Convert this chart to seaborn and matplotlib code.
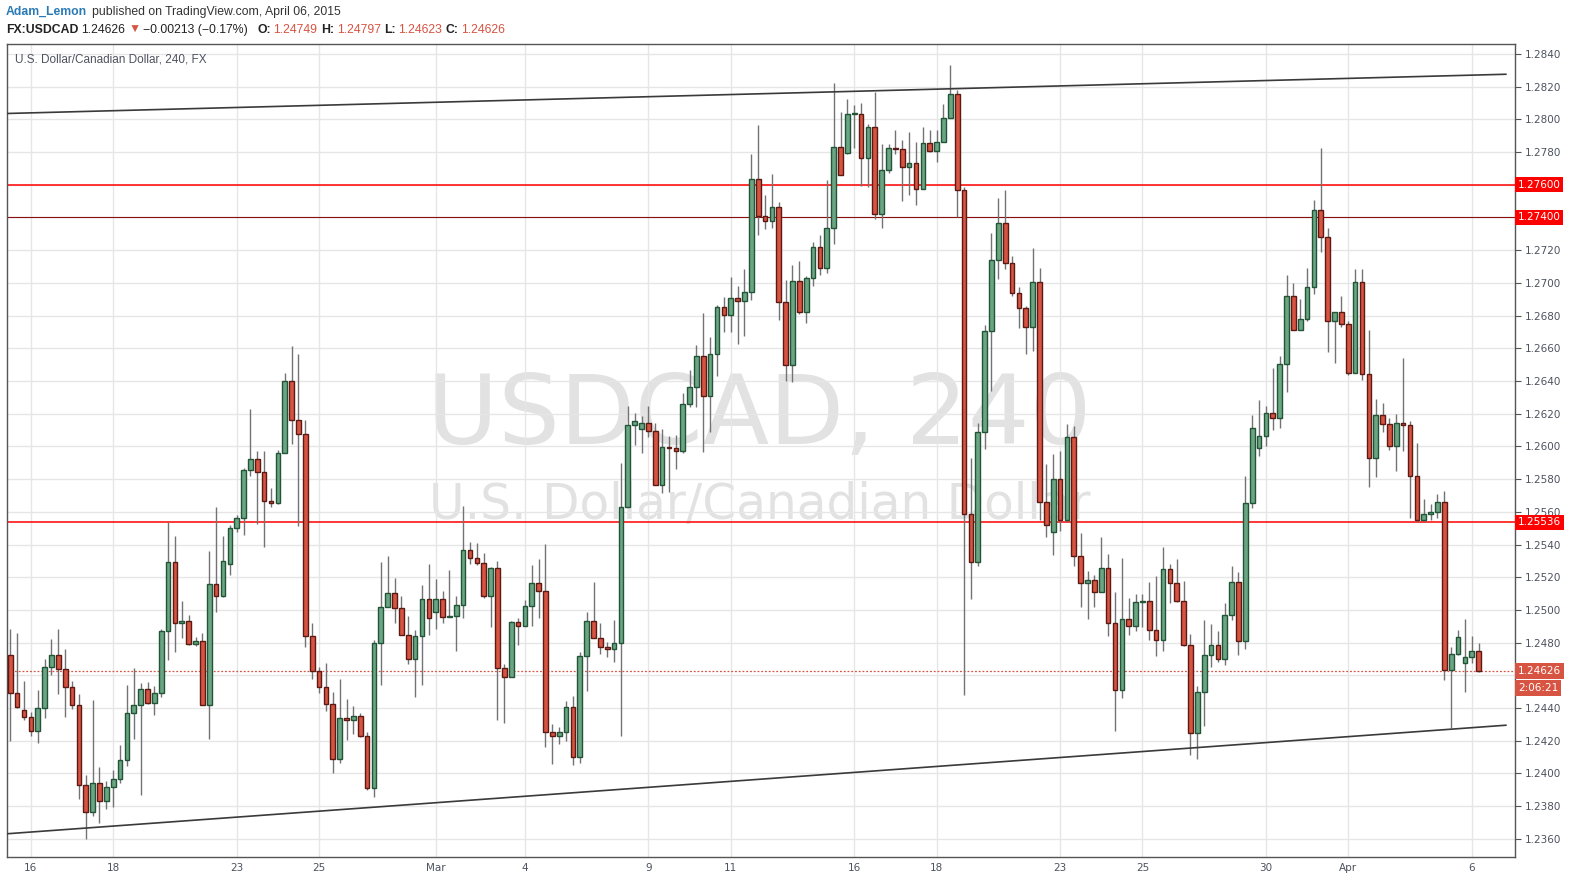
import numpy as np
import pandas as pd
import matplotlib
matplotlib.use('Agg')
import matplotlib.pyplot as plt
import seaborn as sns

# USDCAD 4h candles (Feb 13 - Apr 6 2015)
opens = [1.24722, 1.24490, 1.24386, 1.24343, 1.24261, 1.24398, 1.24649, 1.24722, 1.24637, 1.24527,
         1.24416, 1.23927, 1.23767, 1.23939, 1.23829, 1.23920, 1.23969, 1.24080, 1.24370, 1.24420,
         1.24515, 1.24430, 1.24491, 1.24874, 1.25294, 1.24923, 1.24930, 1.24789, 1.24807, 1.24418,
         1.25160, 1.25087, 1.25282, 1.25501, 1.25562, 1.25854, 1.25921, 1.25842, 1.25665, 1.25653,
         1.25957, 1.26402, 1.26164, 1.26073, 1.24838, 1.24625, 1.24527, 1.24424, 1.24090, 1.24340,
         1.24327, 1.24351, 1.24230, 1.23909, 1.24797, 1.25016, 1.25101, 1.25010, 1.24846, 1.24700,
         1.24840, 1.25065, 1.24986, 1.25065, 1.24955, 1.24963, 1.25028, 1.25369, 1.25320, 1.25284,
         1.25083, 1.25256, 1.24647, 1.24592, 1.24927, 1.24901, 1.25024, 1.25164, 1.25116, 1.24252,
         1.24227, 1.24252, 1.24404, 1.24100, 1.24720, 1.24933, 1.24830, 1.24775, 1.24763, 1.24800,
         1.25627, 1.26132, 1.26108, 1.26144, 1.26095, 1.25767, 1.25998, 1.25992, 1.25972, 1.26260,
         1.26363, 1.26552, 1.26308, 1.26564, 1.26850, 1.26801, 1.26905, 1.26892, 1.26947, 1.27635,
         1.27410, 1.27379, 1.27465, 1.26886, 1.26497, 1.27014, 1.26824, 1.27032, 1.27221, 1.27093,
         1.27337, 1.27833, 1.27796, 1.28035, 1.28035, 1.27765, 1.27955, 1.27422, 1.27692, 1.27827,
         1.27818, 1.27710, 1.27735, 1.27576, 1.27857, 1.27808, 1.27863, 1.28010, 1.28157, 1.27569,
         1.25586, 1.25296, 1.26089, 1.26706, 1.27137, 1.27364, 1.27120, 1.26937, 1.26846, 1.26730,
         1.27005, 1.25663, 1.25477, 1.25802, 1.25547, 1.26058, 1.25328, 1.25164, 1.25182, 1.25109,
         1.25255, 1.24921, 1.24508, 1.24945, 1.24901, 1.25049, 1.25055, 1.24878, 1.24816, 1.25249,
         1.25164, 1.25055, 1.24785, 1.24246, 1.24500, 1.24727, 1.24786, 1.24700, 1.24969, 1.25170,
         1.24810, 1.25651, 1.25991, 1.26065, 1.26204, 1.26175, 1.26505, 1.26918, 1.26710, 1.26778,
         1.26972, 1.27446, 1.27282, 1.26767, 1.26823, 1.26750, 1.26450, 1.27006, 1.26440, 1.25928,
         1.26190, 1.26135, 1.26001, 1.26141, 1.26129, 1.25818, 1.25550, 1.25587, 1.25599, 1.25660,
         1.24635, 1.24728, 1.24673, 1.24710, 1.24749]
highs = [1.24882, 1.24857, 1.24565, 1.24378, 1.24510, 1.24698, 1.24820, 1.24882, 1.24759, 1.24565,
         1.24486, 1.23990, 1.24449, 1.24037, 1.23951, 1.24020, 1.24173, 1.24541, 1.24645, 1.24554,
         1.24562, 1.24535, 1.24882, 1.25538, 1.25454, 1.25053, 1.24968, 1.24834, 1.24858, 1.25363,
         1.25631, 1.25454, 1.25521, 1.25582, 1.25870, 1.26227, 1.25972, 1.25972, 1.25744, 1.25978,
         1.26452, 1.26617, 1.26566, 1.26160, 1.24922, 1.24649, 1.24675, 1.24497, 1.24578, 1.24456,
         1.24414, 1.24371, 1.24254, 1.24817, 1.25292, 1.25329, 1.25195, 1.25083, 1.24963, 1.24878,
         1.25152, 1.25280, 1.25189, 1.25118, 1.25243, 1.25083, 1.25633, 1.25418, 1.25412, 1.25347,
         1.25260, 1.25300, 1.24667, 1.24933, 1.24951, 1.25061, 1.25276, 1.25312, 1.25404, 1.24302,
         1.24282, 1.24442, 1.24471, 1.24740, 1.24990, 1.25172, 1.24921, 1.24805, 1.24939, 1.25900,
         1.26250, 1.26203, 1.26189, 1.26250, 1.26144, 1.26108, 1.26061, 1.26067, 1.26327, 1.26469,
         1.26621, 1.26815, 1.26669, 1.26864, 1.26913, 1.27034, 1.26980, 1.27083, 1.27789, 1.27966,
         1.27538, 1.27667, 1.27497, 1.27020, 1.27108, 1.27132, 1.27040, 1.27252, 1.27290, 1.27629,
         1.28220, 1.28043, 1.28122, 1.28086, 1.28098, 1.27969, 1.28167, 1.27850, 1.27850, 1.27937,
         1.27873, 1.27924, 1.27863, 1.27955, 1.27937, 1.27937, 1.28092, 1.28335, 1.28180, 1.27588,
         1.25930, 1.26145, 1.26745, 1.27306, 1.27518, 1.27566, 1.27164, 1.26976, 1.26860, 1.27212,
         1.27092, 1.25894, 1.25952, 1.25969, 1.26137, 1.26127, 1.25468, 1.25237, 1.25215, 1.25448,
         1.25342, 1.25107, 1.25318, 1.25075, 1.25099, 1.25099, 1.25172, 1.25209, 1.25385, 1.25282,
         1.25310, 1.25176, 1.24854, 1.24536, 1.24940, 1.24911, 1.24869, 1.25045, 1.25270, 1.25231,
         1.25820, 1.26192, 1.26285, 1.26250, 1.26480, 1.26554, 1.27047, 1.26999, 1.26901, 1.27089,
         1.27507, 1.27825, 1.27336, 1.26823, 1.26917, 1.26766, 1.27087, 1.27087, 1.26710, 1.26290,
         1.26265, 1.26172, 1.26198, 1.26543, 1.26153, 1.26021, 1.25680, 1.25650, 1.25711, 1.25729,
         1.24773, 1.24876, 1.24943, 1.24840, 1.24797]
lows = [1.24200, 1.24402, 1.24327, 1.24231, 1.24188, 1.24341, 1.24604, 1.24486, 1.24347, 1.24396,
        1.23843, 1.23600, 1.23740, 1.23694, 1.23784, 1.23792, 1.23940, 1.24047, 1.24213, 1.23868,
        1.24425, 1.24355, 1.24465, 1.24696, 1.24744, 1.24826, 1.24785, 1.24781, 1.24418, 1.24209,
        1.24988, 1.25079, 1.25211, 1.25475, 1.25460, 1.25821, 1.25523, 1.25383, 1.25627, 1.25647,
        1.25957, 1.26016, 1.25511, 1.24775, 1.24580, 1.24489, 1.24383, 1.24000, 1.24062, 1.24203,
        1.24239, 1.24223, 1.23900, 1.23858, 1.24540, 1.25016, 1.24923, 1.24846, 1.24667, 1.24467,
        1.24540, 1.24844, 1.24882, 1.24923, 1.24955, 1.24746, 1.24953, 1.25280, 1.25274, 1.25071,
        1.24895, 1.24329, 1.24310, 1.24592, 1.24785, 1.24901, 1.24901, 1.24949, 1.24164, 1.24057,
        1.24183, 1.24197, 1.24049, 1.24065, 1.24505, 1.24830, 1.24730, 1.24712, 1.24682, 1.24231,
        1.25627, 1.26008, 1.25959, 1.26057, 1.25767, 1.25718, 1.25724, 1.25862, 1.25959, 1.26239,
        1.26239, 1.25966, 1.26087, 1.26432, 1.26702, 1.26702, 1.26629, 1.26677, 1.26895, 1.27290,
        1.27329, 1.27335, 1.26775, 1.26400, 1.26391, 1.26811, 1.26757, 1.26980, 1.27051, 1.27063,
        1.27237, 1.27661, 1.27790, 1.27824, 1.27592, 1.27586, 1.27392, 1.27337, 1.27673, 1.27788,
        1.27500, 1.27537, 1.27476, 1.27576, 1.27800, 1.27741, 1.27863, 1.28010, 1.27406, 1.24480,
        1.25067, 1.25267, 1.25986, 1.26337, 1.27022, 1.27082, 1.26918, 1.26723, 1.26566, 1.26583,
        1.25552, 1.25443, 1.25335, 1.25484, 1.25535, 1.25267, 1.25016, 1.24943, 1.25018, 1.25109,
        1.24840, 1.24262, 1.24463, 1.24846, 1.24870, 1.24897, 1.24816, 1.24718, 1.24749, 1.25043,
        1.25047, 1.24779, 1.24110, 1.24089, 1.24292, 1.24651, 1.24680, 1.24666, 1.24937, 1.24725,
        1.24761, 1.25624, 1.25942, 1.26001, 1.26101, 1.26113, 1.26331, 1.26710, 1.26710, 1.26764,
        1.26933, 1.27189, 1.26580, 1.26511, 1.26730, 1.26438, 1.26450, 1.26407, 1.25750, 1.25810,
        1.26090, 1.25981, 1.25847, 1.25975, 1.25560, 1.25538, 1.25538, 1.25550, 1.25562, 1.24574,
        1.24280, 1.24722, 1.24500, 1.24673, 1.24623]
closes = [1.24490, 1.24408, 1.24343, 1.24261, 1.24398, 1.24649, 1.24722, 1.24637, 1.24527, 1.24416,
          1.23927, 1.23767, 1.23939, 1.23829, 1.23920, 1.23969, 1.24080, 1.24370, 1.24420, 1.24515,
          1.24430, 1.24491, 1.24874, 1.25294, 1.24923, 1.24930, 1.24789, 1.24807, 1.24418, 1.25160,
          1.25087, 1.25300, 1.25501, 1.25562, 1.25854, 1.25921, 1.25842, 1.25665, 1.25653, 1.25957,
          1.26402, 1.26164, 1.26073, 1.24838, 1.24625, 1.24527, 1.24424, 1.24090, 1.24340, 1.24327,
          1.24351, 1.24230, 1.23909, 1.24797, 1.25016, 1.25101, 1.25010, 1.24846, 1.24700, 1.24840,
          1.25065, 1.24949, 1.25065, 1.24955, 1.24963, 1.25028, 1.25369, 1.25320, 1.25284, 1.25083,
          1.25256, 1.24647, 1.24592, 1.24927, 1.24901, 1.25024, 1.25164, 1.25116, 1.24252, 1.24227,
          1.24252, 1.24404, 1.24100, 1.24720, 1.24933, 1.24830, 1.24775, 1.24763, 1.24800, 1.25627,
          1.26132, 1.26156, 1.26144, 1.26095, 1.25767, 1.25998, 1.25992, 1.25972, 1.26260, 1.26363,
          1.26552, 1.26308, 1.26564, 1.26850, 1.26801, 1.26905, 1.26892, 1.26947, 1.27635, 1.27410,
          1.27379, 1.27465, 1.26886, 1.26497, 1.27014, 1.26824, 1.27032, 1.27221, 1.27093, 1.27337,
          1.27833, 1.27661, 1.28035, 1.28040, 1.27765, 1.27955, 1.27422, 1.27692, 1.27827, 1.27818,
          1.27710, 1.27735, 1.27576, 1.27857, 1.27808, 1.27863, 1.28010, 1.28157, 1.27569, 1.25586,
          1.25296, 1.26089, 1.26706, 1.27137, 1.27364, 1.27120, 1.26937, 1.26846, 1.26730, 1.27005,
          1.25663, 1.25520, 1.25802, 1.25547, 1.26058, 1.25328, 1.25164, 1.25182, 1.25109, 1.25255,
          1.24921, 1.24508, 1.24945, 1.24901, 1.25049, 1.25055, 1.24878, 1.24816, 1.25249, 1.25164,
          1.25055, 1.24785, 1.24246, 1.24500, 1.24727, 1.24786, 1.24700, 1.24969, 1.25170, 1.24810,
          1.25651, 1.26113, 1.26065, 1.26204, 1.26175, 1.26505, 1.26918, 1.26710, 1.26778, 1.26972,
          1.27446, 1.27282, 1.26767, 1.26823, 1.26750, 1.26450, 1.27006, 1.26440, 1.25928, 1.26190,
          1.26135, 1.26001, 1.26141, 1.26129, 1.25818, 1.25550, 1.25587, 1.25599, 1.25660, 1.24635,
          1.24728, 1.24832, 1.24710, 1.24746, 1.24626]

tick_pos = [3, 15, 33, 45, 62, 75, 93, 105, 123, 135, 153, 165, 183, 195, 213]
tick_labels = ['16', '18', '23', '25', 'Mar', '4', '9', '11', '16', '18', '23', '25', '30', 'Apr', '6']

# horizontal levels and trend lines
level_prices = [1.2760, 1.2740, 1.25536]
level_labels = ['1.27600', '1.27400', '1.25536']
level_colors = ['#ff0000', '#8a1010', '#ff0000']
level_widths = [1.1, 0.8, 1.1]
trend_x = [-0.5, 218]
trend_upper = [1.28036, 1.28276]
trend_lower = [1.23631, 1.24295]
last_price = 1.24626
countdown = '2:06:21'

df = pd.DataFrame({'open': opens, 'high': highs, 'low': lows, 'close': closes})
df['idx'] = np.arange(len(df))
df['up'] = df['close'] >= df['open']
df['bottom'] = df[['open', 'close']].min(axis=1)
df['height'] = (df['close'] - df['open']).abs().clip(lower=0.00004)

UP_FILL, UP_EDGE = '#6ba583', '#225437'
DN_FILL, DN_EDGE = '#d75442', '#5b1a13'

sns.set_theme(style='white')
plt.rcParams['font.family'] = ['DejaVu Sans']
HEAD_FONT = ['Liberation Sans', 'DejaVu Sans']

W, H = 1575, 886
fig = plt.figure(figsize=(W / 100, H / 100), dpi=100)
fig.patch.set_facecolor('white')
ax = fig.add_axes([7 / W, 1 - 857 / H, (1515 - 7) / W, (857 - 44) / H])
ax.set_facecolor('white')

# watermark
ax.text(0.499, 0.541, 'USDCAD, 240', transform=ax.transAxes, ha='center', va='center',
        fontsize=70, color='#e2e2e2', zorder=0)
ax.text(0.499, 0.433, 'U.S. Dollar/Canadian Dollar', transform=ax.transAxes, ha='center',
        va='center', fontsize=35, color='#e2e2e2', zorder=0)

# wicks and bodies
ax.vlines(df['idx'], df['low'], df['high'], color='#737375', lw=1, zorder=3)
ax.bar(df['idx'], df['height'], bottom=df['bottom'], width=0.68,
       color=np.where(df['up'], UP_FILL, DN_FILL),
       edgecolor=np.where(df['up'], UP_EDGE, DN_EDGE), linewidth=1, zorder=4)

# trend lines
sns.lineplot(x=trend_x, y=trend_upper, ax=ax, color='#3a3a3a', lw=1.2, zorder=5)
sns.lineplot(x=trend_x, y=trend_lower, ax=ax, color='#3a3a3a', lw=1.2, zorder=5)

# levels
for p, c, lw in zip(level_prices, level_colors, level_widths):
    ax.axhline(p, color=c, lw=lw, zorder=2)
ax.axhline(last_price, color='#d75442', lw=0.9, ls=(0, (1.5, 1.5)), zorder=2)

ax.set_xlim(-0.48, 219.3)
ax.set_ylim(1.23489, 1.28461)
yt = np.round(np.arange(1.2360, 1.28401, 0.002), 4)
# labels hidden behind the coloured price boxes are left blank
covered = {1.2760, 1.2740, 1.2460}
ax.set_yticks(yt)
ax.set_yticklabels(['' if v in covered else f'{v:.4f}' for v in yt])
ax.set_xticks(tick_pos)
ax.set_xticklabels(tick_labels)
ax.yaxis.tick_right()
ax.tick_params(axis='y', length=4, width=0.8, color='#555555', labelsize=7.5,
               labelcolor='#4c525e', pad=3, right=True, left=False)
ax.tick_params(axis='x', length=0, labelsize=7.5, labelcolor='#4c525e', pad=4)
ax.grid(True, color='#e6e6e6', lw=1)
ax.set_axisbelow(True)
for s in ax.spines.values():
    s.set_color('#555555')
    s.set_linewidth(1)

# right-side price labels
ytr = ax.get_yaxis_transform()
for p, lab in zip(level_prices, level_labels):
    ax.text(1.002, p, lab, transform=ytr, ha='left', va='center', fontsize=7.5, color='white',
            bbox=dict(boxstyle='square,pad=0.25', fc='#ff0000', ec='none'), zorder=10, clip_on=False)
ax.text(1.002, last_price, '1.24626', transform=ytr, ha='left', va='center', fontsize=7.5,
        color='white', bbox=dict(boxstyle='square,pad=0.25', fc='#d75442', ec='none'),
        zorder=10, clip_on=False)
ax.text(1.002, last_price - 0.00103, countdown, transform=ytr, ha='left', va='center',
        fontsize=7.5, color='white',
        bbox=dict(boxstyle='square,pad=0.25', fc='#d75442', ec='none'), zorder=10, clip_on=False)

# inner title
fig.text(15 / W, 1 - 60 / H, 'U.S. Dollar/Canadian Dollar, 240, FX', fontsize=8.5,
         color='#4c525e', va='center', ha='left', family=HEAD_FONT)

# header lines, laid out piece by piece so nothing collides
renderer = fig.canvas.get_renderer()


def write_row(y_px, pieces):
    x_end = 0
    for x_ref, txt, col, wt in pieces:
        x = max(x_ref, x_end + 3)
        t = fig.text(x / W, 1 - y_px / H, txt, fontsize=8.8, color=col, fontweight=wt,
                     va='center', ha='left', family=HEAD_FONT)
        x_end = t.get_window_extent(renderer).x1


write_row(12, [(6, 'Adam_Lemon', '#2a7ab5', 'bold'),
               (92, 'published on TradingView.com, April 06, 2015', '#333333', 'normal')])
write_row(30, [(6, 'FX:USDCAD', '#222222', 'bold'), (79, '1.24626', '#222222', 'normal'),
               (120, '▼', '#d75442', 'normal'), (130, '−0.00213 (−0.17%)', '#222222', 'normal'),
               (257, 'O:', '#222222', 'bold'), (270, '1.24749', '#d75442', 'normal'),
               (315, 'H:', '#222222', 'bold'), (328, '1.24797', '#d75442', 'normal'),
               (373, 'L:', '#222222', 'bold'), (383, '1.24623', '#d75442', 'normal'),
               (429, 'C:', '#222222', 'bold'), (442, '1.24626', '#d75442', 'normal')])

fig.savefig('out.png', dpi=100, facecolor='white')
